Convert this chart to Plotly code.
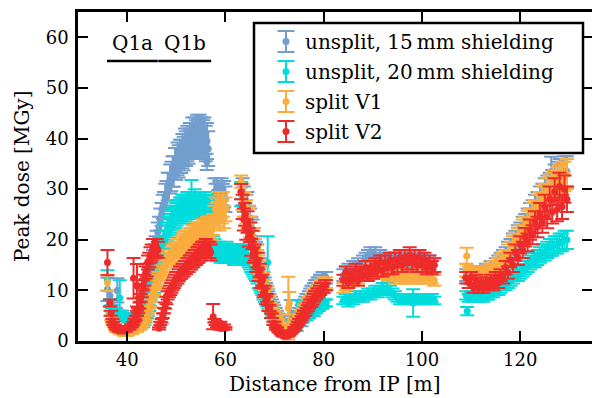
import numpy as np
import plotly.graph_objects as go

N = None

# Scoring stations along the beam line
X_A = np.arange(36.5, 63.01, 0.25)   # Q1a / Q1b region
X_B = np.arange(63.5, 80.51, 0.25)
X_C = np.arange(84.0, 102.51, 0.5)
X_D = np.arange(109.0, 129.51, 0.5)

# Peak dose [MGy] -- unsplit, 15 mm shielding (one row per metre in the Q1 region)
BLUE_A = [
    9.0, 7.5, 6.5, 6.0,
    5.5, 6.0, 5.5, 5.0,
    5.5, 5.0, 5.5, 4.5,
    5.0, 4.5, 5.0, 4.5,
    5.0, 4.5, 5.0, 4.5,
    5.0, 4.5, 5.0, 5.5,
    5.0, 5.5, 6.0, 6.5,
    7.0, 8.0, 9.0, 10.5,
    11.5, 13.5, 14.5, 16.5,
    17.5, 19.0, 20.0, 21.5,
    22.5, 24.0, 25.0, 26.5,
    27.0, 28.5, 29.0, 30.5,
    30.5, 32.0, 32.5, 33.5,
    33.5, 35.0, 35.0, 36.0,
    35.5, 36.5, 36.5, 37.5,
    37.0, 38.5, 38.0, 39.0,
    38.5, 39.5, 39.5, 40.5,
    39.5, 40.5, 40.0, 41.0,
    40.0, 41.0, 40.5, 40.5,
    40.0, 40.5, 39.0, 39.5,
    38.0, N, N, N,
    N, 29.5, 28.5, 29.5,
    28.5, 29.0, 28.5, 29.5,
    28.5, 29.0, 28.0, N,
    N, N, N, N,
    N, N, N, N,
    N, N, N,
]
BLUE_B = [
    29.5, 28.0, 27.0, 26.5,
    27.0, 24.5, 24.0, 22.5,
    22.0, 20.5, 19.0, 18.0,
    17.5, 16.0, 15.0, 14.0,
    13.5, 12.5, 11.5, 10.5,
    10.0, 9.0, 8.5, 8.0,
    7.5, 7.0, 6.5, 6.0,
    5.5, 5.0, 4.5, 4.5,
    4.0, 4.0, 3.5, 3.5,
    3.5, 3.5, 3.5, 3.5,
    4.0, 4.0, 4.5, 4.5,
    5.0, 5.5, 6.0, 6.0,
    6.5, 7.0, 7.5, 8.0,
    8.5, 8.5, 9.0, 9.5,
    10.0, 10.0, 10.5, 11.0,
    11.0, 11.5, 11.5, 12.0,
    12.0, 12.5, 12.5, 12.5,
    12.5,
]
BLUE_C = [13.0, 13.5, 14.0, 13.5, 14.5, 14.0, 15.0, 14.5, 15.5, 16.0, 16.5, 17.0, 16.5, 17.0,
          16.0, 16.5, 15.5, 16.0, 15.5, 16.0, 15.5, 16.0, 15.5, 16.0, 16.5, 16.0, 16.5, 16.0,
          16.5, 16.0, 16.0, 15.5, 16.0, 15.5, 15.0, 15.5, 14.5, 15.0]
BLUE_D = [13.0, 12.5, 13.5, 13.0, 13.5, 13.0, 13.5, 13.5, 14.0, 14.0, 14.5, 14.5, 15.0, 15.5,
          16.0, 16.5, 17.0, 18.0, 18.5, 19.5, 20.0, 21.0, 21.5, 22.5, 23.0, 24.0, 25.0, 25.5,
          26.5, 27.0, 28.0, 28.5, 29.5, 30.0, 30.5, 31.0, 32.0, 32.5, 33.0, 33.0, 33.5, 33.5]
BLUE_OUT_X = [36.0, 38.0, 56.2, 63.2, 73.3, 75.5, 126.3]
BLUE_OUT_Y = [10.2, 10.0, 35.4, 29.5, 5.5, 5.5, 33.5]
BLUE_OUT_E = [2.3, 2.4, 1.6, 1.5, 2.6, 2.6, 2.9]

# Peak dose [MGy] -- unsplit, 20 mm shielding
CYAN_A = [
    7.5, 6.5, 6.0, 6.0,
    5.5, 5.0, 5.5, 5.0,
    5.5, 4.5, 5.0, 4.5,
    5.0, 4.5, 4.5, 4.0,
    4.5, 4.0, 4.5, 4.0,
    4.0, 3.5, 3.5, 3.0,
    3.0, 3.0, 3.0, 3.0,
    3.5, 4.0, 5.0, 5.5,
    6.5, 7.5, 8.5, 9.5,
    10.5, 12.0, 13.0, 14.5,
    15.5, 17.0, 18.0, 19.0,
    20.0, 21.0, 21.5, 22.0,
    22.5, 23.0, 23.5, 24.0,
    24.5, 24.5, 25.0, 25.5,
    25.5, 26.0, 26.0, 26.5,
    26.0, 26.5, 26.5, 27.0,
    26.5, 27.0, 27.0, 26.5,
    26.5, 27.5, 27.0, 26.5,
    26.5, 27.0, 27.0, 26.5,
    26.5, 27.0, 26.5, 26.0,
    26.0, 26.5, 25.5, 25.0,
    19.0, 18.5, 18.0, 17.5,
    17.5, 18.0, 17.0, 17.5,
    17.5, 17.0, 17.0, 18.0,
    17.5, 17.0, 17.5, 17.0,
    17.5, 16.5, 17.5, 17.0,
    17.5, 17.0, 17.5,
]
CYAN_B = [
    17.5, 17.0, 17.0, 16.5,
    16.5, 16.0, 15.5, 15.0,
    14.5, 14.0, 13.5, 13.0,
    12.5, 11.5, 11.0, 10.5,
    10.0, 9.0, 8.5, 8.0,
    7.5, 7.0, 6.5, 6.0,
    5.5, 5.0, 4.5, 4.5,
    4.0, 4.0, 3.5, 3.5,
    3.0, 3.0, 3.0, 3.0,
    3.0, 3.0, 3.0, 3.0,
    3.0, 3.5, 3.5, 3.5,
    3.5, 3.5, 3.5, 4.0,
    4.0, 4.0, 4.5, 4.5,
    4.5, 5.0, 5.0, 5.5,
    5.5, 5.5, 5.5, 6.0,
    6.0, 6.5, 6.5, 7.0,
    7.0, 7.0, 7.5, 7.5,
    7.5,
]
CYAN_C = [8.0, 8.5, 7.5, 8.5, 8.0, 9.0, 8.5, 9.0, 8.5, 9.0, 9.5, 9.0, 9.5, 10.0, 9.5, 10.0,
          10.5, 10.0, 10.5, 10.0, 9.5, 9.0, 8.5, 8.0, 8.5, 8.0, 8.5, 8.0, 8.5, 8.0, 8.5, 8.0,
          8.5, 8.0, 8.5, 8.0, 8.5, 8.0]
CYAN_D = [9.0, 8.5, 9.0, 8.5, 8.5, 8.5, 9.0, 8.5, 9.0, 9.0, 9.5, 9.5, 10.0, 10.0, 10.5, 11.0,
          11.0, 11.5, 12.0, 12.5, 13.0, 13.0, 13.5, 14.0, 14.5, 15.0, 15.5, 16.0, 16.0, 16.5,
          17.0, 17.5, 17.5, 18.0, 18.5, 18.5, 19.0, 19.0, 19.5, 19.5, 20.0, 20.0]
CYAN_OUT_X = [36.0, 38.5, 53.1, 63.2, 68.6, 74.5, 98.2, 109.2]
CYAN_OUT_Y = [12.0, 8.5, 27.5, 29.0, 15.5, 5.0, 7.5, 5.9]
CYAN_OUT_E = [2.0, 3.5, 4.3, 2.4, 5.2, 3.0, 2.7, 0.8]

# Peak dose [MGy] -- split V1
ORANGE_A = [
    5.5, 4.5, 3.5, 3.0,
    2.5, 2.0, 2.0, 2.0,
    1.5, 1.5, 1.5, 1.5,
    1.5, 1.5, 1.5, 1.5,
    1.5, 1.5, 1.5, 2.0,
    2.0, 2.0, 2.0, 2.5,
    2.5, 2.5, 3.0, 3.5,
    4.0, 4.5, 5.5, 6.0,
    7.0, 7.5, 8.5, 9.5,
    10.0, 11.0, 11.5, 12.0,
    12.5, 13.0, 13.5, 14.0,
    14.5, 15.0, 15.5, 16.0,
    16.5, 16.5, 17.0, 17.5,
    17.5, 18.0, 18.0, 18.5,
    18.5, 19.0, 19.0, 19.5,
    19.5, 20.0, 20.0, 20.0,
    20.0, 20.5, 20.5, 21.0,
    21.0, 21.0, 21.0, 21.5,
    21.5, 21.5, 21.5, 22.0,
    22.0, 22.0, 22.0, 22.5,
    22.5, 22.5, 22.0, 22.0,
    23.0, 24.5, 26.0, 25.0,
    27.0, 24.0, 26.5, 25.5,
    27.0, 24.5, 26.0, N,
    N, N, N, N,
    N, N, N, N,
    N, N, N,
]
ORANGE_B = [
    28.5, 27.0, 26.5, 25.5,
    24.5, 24.0, 22.5, 21.5,
    20.5, 20.0, 18.5, 17.5,
    16.5, 15.5, 14.5, 13.5,
    12.5, 12.0, 11.0, 10.0,
    9.5, 8.5, 8.0, 7.0,
    6.5, 6.0, 5.5, 5.0,
    4.5, 4.0, 3.5, 3.5,
    3.0, 3.0, 2.5, 2.5,
    2.5, 2.5, 2.5, 2.5,
    3.0, 3.0, 3.5, 3.5,
    4.0, 4.0, 4.5, 5.0,
    5.5, 6.0, 6.5, 6.5,
    7.0, 7.5, 8.0, 8.0,
    8.5, 9.0, 9.5, 9.5,
    10.0, 10.0, 10.5, 10.5,
    11.0, 11.0, 11.5, 11.5,
    11.5,
]
ORANGE_C = [10.5, 11.0, 11.5, 12.0, 12.0, 12.5, 12.5, 13.0, 13.0, 13.5, 13.5, 14.0, 14.0,
            14.0, 14.0, 13.5, 13.5, 13.5, 13.0, 13.0, 13.0, 12.5, 13.0, 12.5, 13.0, 12.5,
            13.0, 12.5, 13.0, 12.5, 13.0, 12.5, 13.0, 12.5, 13.0, 12.5, 12.5, 12.0]
ORANGE_D = [14.0, 13.5, 13.5, 13.0, 13.0, 13.0, 13.0, 13.5, 13.5, 14.0, 14.0, 14.5, 14.5,
            15.0, 15.5, 16.0, 16.5, 17.5, 18.0, 19.0, 19.5, 20.5, 21.0, 22.0, 22.5, 23.5,
            24.0, 25.0, 25.5, 26.5, 27.0, 28.0, 28.5, 29.5, 30.0, 30.5, 31.0, 31.5, 32.0,
            32.5, 32.5, 33.0]
ORANGE_OUT_X = [36.0, 63.2, 72.8, 73.0, 109.1]
ORANGE_OUT_Y = [11.5, 31.5, 6.5, 7.5, 16.8]
ORANGE_OUT_E = [1.6, 1.2, 6.2, 2.2, 1.6]

# Peak dose [MGy] -- split V2
RED_A = [
    7.5, 5.5, 4.0, 3.5,
    3.0, 2.5, 2.5, 2.0,
    2.5, 2.0, 2.5, 2.0,
    2.5, 2.0, 2.5, 2.5,
    2.5, 3.0, 3.0, 3.5,
    4.0, 4.5, 5.5, 6.0,
    7.0, 8.5, 9.5, 11.0,
    12.0, 13.5, 14.0, 15.5,
    16.0, 17.0, 17.5, 18.5,
    18.5, 18.5, 18.5, 18.0,
    2.5, 3.5, 4.0, 5.0,
    6.0, 7.0, 8.0, 9.0,
    9.5, 10.0, 10.5, 11.0,
    11.5, 12.0, 12.5, 12.5,
    13.0, 13.5, 13.5, 14.0,
    14.0, 14.5, 14.5, 15.0,
    15.0, 15.5, 15.5, 16.0,
    16.0, 16.5, 16.5, 17.0,
    17.0, 17.5, 17.5, 18.0,
    18.0, 18.0, 18.5, 18.0,
    18.0, 18.0, 17.5, N,
    N, 4.0, 3.5, 3.0,
    3.0, 2.5, 3.5, 2.5,
    2.5, 3.0, 2.5, N,
    N, N, N, N,
    N, N, N, N,
    N, N, N,
]
RED_B = [
    26.5, 24.0, 25.0, 22.0,
    23.5, 20.5, 21.5, 18.5,
    20.0, 17.0, 17.5, 15.0,
    16.0, 13.0, 14.0, 11.5,
    12.0, 9.5, 10.0, 8.0,
    8.5, 6.5, 6.5, 5.0,
    5.0, 3.5, 3.5, 2.5,
    2.5, 2.0, 1.8, 1.5,
    1.2, 1.0, 1.0, 1.0,
    1.0, 1.0, 1.2, 1.5,
    1.8, 2.0, 2.5, 2.5,
    3.0, 3.5, 4.0, 4.0,
    4.5, 5.0, 5.5, 5.5,
    6.0, 6.5, 7.0, 7.5,
    7.5, 8.0, 8.5, 9.0,
    9.0, 9.5, 9.5, 10.0,
    10.5, 10.5, 10.5, 11.0,
    11.0,
]
RED_C = [12.0, 13.5, 11.5, 13.0, 12.5, 14.0, 12.0, 13.5, 13.0, 14.5, 13.0, 14.5, 13.5, 15.0,
         14.0, 15.5, 14.0, 15.5, 14.5, 16.0, 14.5, 16.0, 15.0, 16.5, 15.0, 16.5, 15.5, 17.0,
         15.5, 16.5, 15.0, 16.5, 15.0, 16.0, 14.5, 15.5, 14.5, 15.0]
RED_D = [12.5, 11.5, 12.5, 10.5, 12.0, 10.5, 11.5, 10.5, 11.5, 11.0, 12.0, 11.0, 12.5, 11.5,
         13.0, 12.5, 14.5, 13.5, 16.0, 15.0, 17.5, 16.5, 19.0, 18.0, 20.5, 19.5, 22.0, 21.0,
         23.5, 22.5, 25.0, 23.5, 26.5, 24.5, 28.0, 25.5, 29.5, 26.0, 30.5, 26.5, 30.0, 28.0]
RED_OUT_X = [36.0, 41.3, 42.0, 57.5, 63.2]
RED_OUT_Y = [15.5, 12.4, 11.0, 4.8, 29.5]
RED_OUT_E = [2.5, 4.0, 4.2, 2.5, 1.5]

REL_ERR = 9  # statistical uncertainty of the scoring, percent

SERIES = [
    ("unsplit, 15\u2009mm shielding", "#729ECE", [BLUE_A, BLUE_B, BLUE_C, BLUE_D],
     BLUE_OUT_X, BLUE_OUT_Y, BLUE_OUT_E),
    ("unsplit, 20\u2009mm shielding", "#00DCDC", [CYAN_A, CYAN_B, CYAN_C, CYAN_D],
     CYAN_OUT_X, CYAN_OUT_Y, CYAN_OUT_E),
    ("split V1", "#FBAC3E", [ORANGE_A, ORANGE_B, ORANGE_C, ORANGE_D],
     ORANGE_OUT_X, ORANGE_OUT_Y, ORANGE_OUT_E),
    ("split V2", "#EE2B2B", [RED_A, RED_B, RED_C, RED_D],
     RED_OUT_X, RED_OUT_Y, RED_OUT_E),
]

MAGNETS = [("Q1a", 35.9, 46.25), ("Q1b", 46.35, 57.1)]
MAGNET_Y = 55.3

FONT = "DejaVu Serif"

fig = go.Figure()
grids = [X_A, X_B, X_C, X_D]
xs = np.concatenate(grids)
for name, color, blocks, ox, oy, oe in SERIES:
    for g, blk in zip(grids, blocks):
        assert len(g) == len(blk), (name, len(g), len(blk))
    ys = sum(blocks, [])
    fig.add_trace(go.Scatter(
        x=xs, y=ys, mode="markers", name=name, showlegend=False,
        marker=dict(size=7, color=color, line=dict(width=0)),
        error_y=dict(type="percent", value=REL_ERR, color=color, thickness=2, width=7),
    ))
    fig.add_trace(go.Scatter(
        x=ox, y=oy, mode="markers", name=name, showlegend=False,
        marker=dict(size=7, color=color, line=dict(width=0)),
        error_y=dict(type="data", array=oe, color=color, thickness=2, width=7),
    ))

# right-hand ticks without a visible spine
fig.add_trace(go.Scatter(x=[None], y=[None], yaxis="y2", showlegend=False))

W, H = 592, 398
L, R, T, B = 78, 592, 12, 341


def px(xp):
    return (xp - L) / (R - L)


def py(yp):
    return (B - yp) / (B - T)


shapes = []
annotations = []

# magnet extents
for label, x0, x1 in MAGNETS:
    shapes.append(dict(type="line", xref="x", yref="y", x0=x0, x1=x1, y0=MAGNET_Y, y1=MAGNET_Y,
                       line=dict(color="black", width=2.5)))
    annotations.append(dict(x=(x0 + x1) / 2, y=MAGNET_Y, xref="x", yref="y", text=label,
                            showarrow=False, yanchor="bottom", yshift=4,
                            font=dict(family=FONT, size=20, color="black")))

# legend box
shapes.append(dict(type="rect", xref="paper", yref="paper", x0=px(254), x1=px(583),
                   y0=py(153), y1=py(23), fillcolor="white",
                   line=dict(color="black", width=2.5), layer="above"))
row_y = [41.5, 71.5, 101.5, 131.5]
ix = 286
for (name, color, *_), ry in zip(SERIES, row_y):
    shapes.append(dict(type="line", xref="paper", yref="paper", x0=px(ix), x1=px(ix),
                       y0=py(ry + 10.5), y1=py(ry - 10.5), line=dict(color=color, width=2),
                       layer="above"))
    for cy in (ry - 10.5, ry + 10.5):
        shapes.append(dict(type="line", xref="paper", yref="paper", x0=px(ix - 8.5),
                           x1=px(ix + 8.5), y0=py(cy), y1=py(cy),
                           line=dict(color=color, width=2), layer="above"))
    shapes.append(dict(type="circle", xref="paper", yref="paper", x0=px(ix - 3.5),
                       x1=px(ix + 3.5), y0=py(ry + 3.5), y1=py(ry - 3.5),
                       fillcolor=color, line=dict(width=0), layer="above"))
    annotations.append(dict(x=px(303), y=py(ry), xref="paper", yref="paper", text=name,
                            showarrow=False, xanchor="left", yanchor="middle",
                            font=dict(family=FONT, size=20, color="black")))

# axis titles
annotations.append(dict(x=px(335), y=py(384), xref="paper", yref="paper",
                        text="Distance from IP [m]", showarrow=False,
                        xanchor="center", yanchor="middle",
                        font=dict(family=FONT, size=20, color="black")))
annotations.append(dict(x=px(22), y=py(177), xref="paper", yref="paper",
                        text="Peak dose [MGy]", showarrow=False, textangle=-90,
                        xanchor="center", yanchor="middle",
                        font=dict(family=FONT, size=20, color="black")))

axis_common = dict(ticks="inside", ticklen=10, tickwidth=1.5, tickcolor="black",
                   showgrid=False, zeroline=False,
                   tickfont=dict(family=FONT, size=18, color="black"))

fig.update_layout(
    width=W, height=H,
    margin=dict(l=L, r=W - R, t=T, b=H - B, pad=0),
    paper_bgcolor="white", plot_bgcolor="white",
    xaxis=dict(range=[30, 134.6], tickvals=[40, 60, 80, 100, 120], showline=True,
               linecolor="black", linewidth=2.5, mirror="ticks", ticklabelstandoff=1,
               **axis_common),
    yaxis=dict(range=[0, 65], tickvals=[0, 10, 20, 30, 40, 50, 60], showline=True,
               linecolor="black", linewidth=2.5, ticklabelstandoff=3, **axis_common),
    yaxis2=dict(range=[0, 65], tickvals=[0, 10, 20, 30, 40, 50, 60], overlaying="y",
                side="right", showline=False, showticklabels=False, ticks="inside",
                ticklen=10, tickwidth=1.5, tickcolor="black", showgrid=False,
                zeroline=False),
    shapes=shapes,
    annotations=annotations,
)

fig.write_html("out.html")
